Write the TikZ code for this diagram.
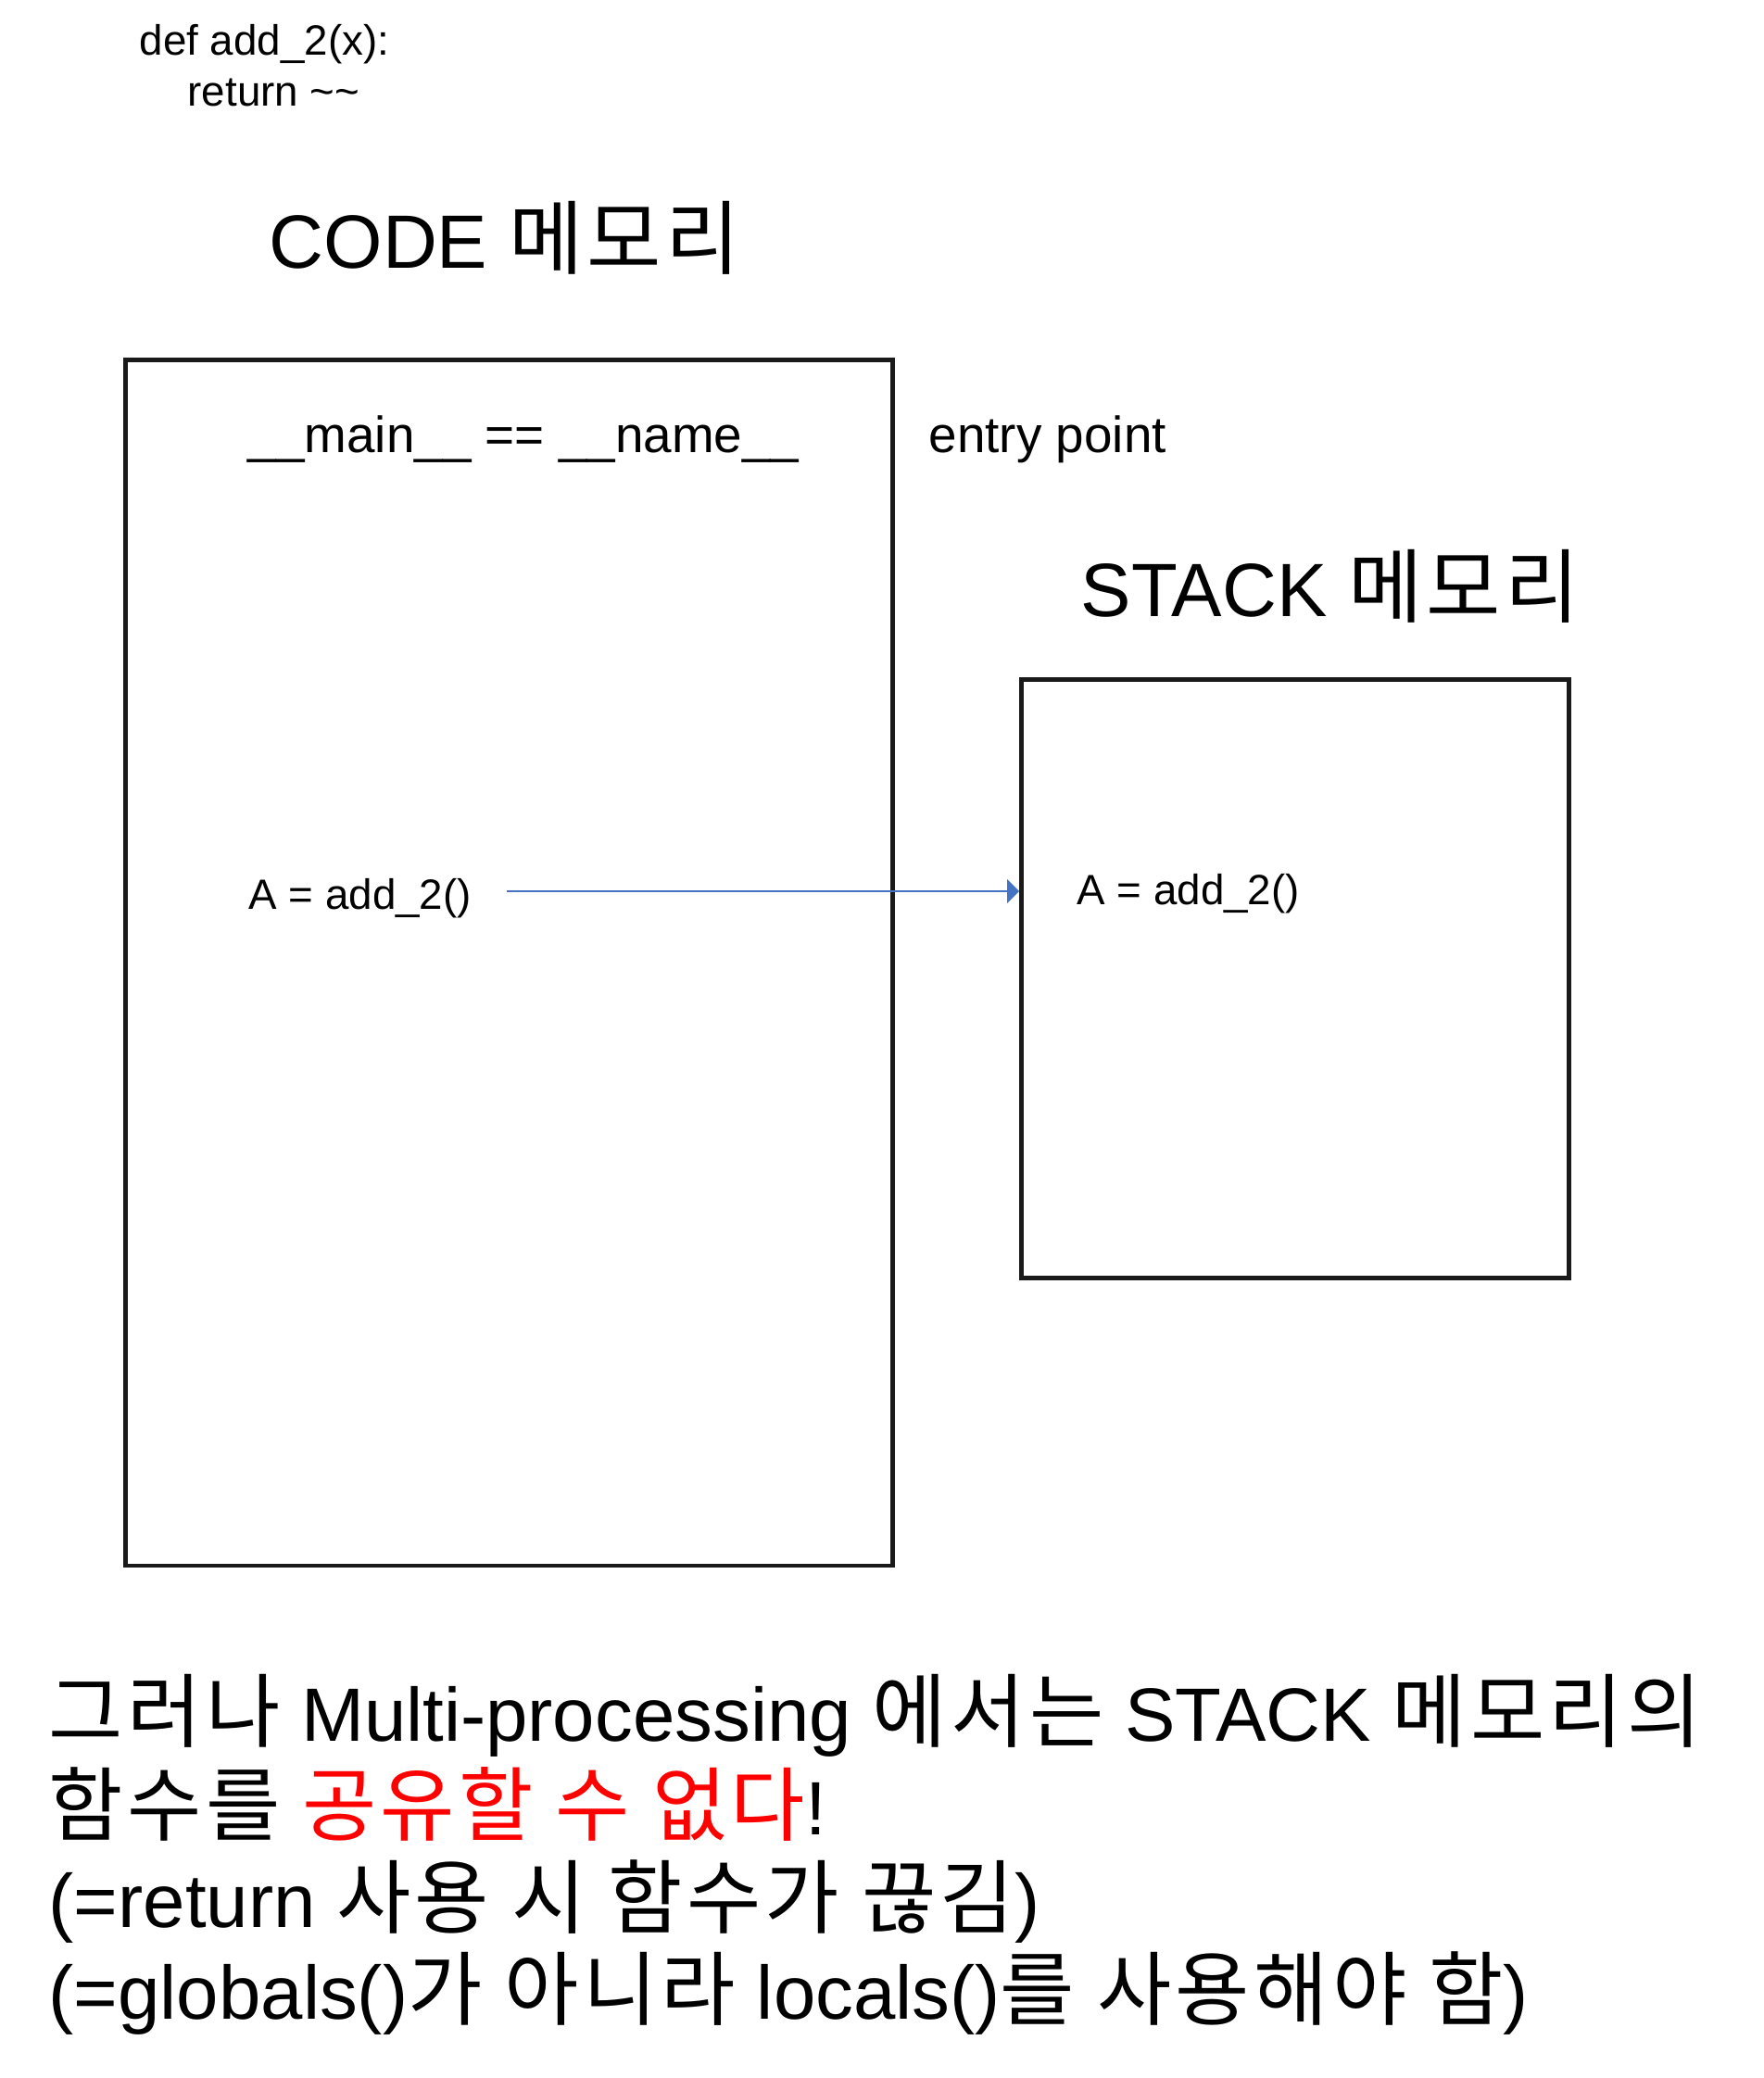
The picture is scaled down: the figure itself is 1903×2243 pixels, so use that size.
\documentclass[tikz,border=0pt]{standalone}
\usepackage{fontspec}
\setmainfont{Liberation Sans}
\newfontfamily\kr[Scale=1.07, LetterSpace=5]{Noto Sans CJK KR}
\usetikzlibrary{arrows.meta}
\definecolor{boxline}{RGB}{26,26,26}
\definecolor{callblue}{RGB}{68,114,196}
\definecolor{warnred}{RGB}{255,0,0}
\tikzset{
  membox/.style={draw=boxline, line width=1.3pt, inner sep=0pt, anchor=north west},
  small/.style={font=\fontsize{13}{15.6}\selectfont, inner sep=0pt, anchor=base west},
  mid/.style={font=\fontsize{15.6}{18.7}\selectfont, inner sep=0pt},
  big/.style={font=\fontsize{23.2}{28.4}\selectfont, inner sep=0pt, anchor=base west},
}
\begin{document}
\begin{tikzpicture}[x=0.01cm, y=-0.01cm]
    \useasboundingbox (0,0) rectangle (1903,2243);
    \node [small] (def) at (150,60) {def add\_2(x):};
    \node [small] (ret) at (202,115) {return \textasciitilde\textasciitilde};
    \node [big] (codetitle) at (290,290) {CODE {\kr 메모리}};
    \node [membox, minimum width=8.28cm, minimum height=13.01cm] (codebox) at (133,386) {};
    \node [mid, anchor=base] (namecheck) at (565,489) {\_\_main\_\_ == \_\_name\_\_};
    \node [mid, anchor=base west] (entry) at (1002,489) {entry point};
    \node [big] (stacktitle) at (1166,665) {STACK {\kr 메모리}};
    \node [membox, minimum width=5.91cm, minimum height=6.46cm] (stackbox) at (1100,731) {};
    \node [small] (callA) at (268,981) {A = add\_2()};
    \node [small] (stackA) at (1162,976) {A = add\_2()};
    \coordinate (callend) at (547,962);
    \draw [callblue, line width=0.6pt, -{Triangle[length=0.13cm, width=0.26cm]}] (callend) -- (callend -| stackbox.west);
    \node [big] (note1) at (52,1879) {{\kr 그러나} Multi-processing {\kr 에서는} STACK {\kr 메모리의}};
    \node [big] (note2) at (52,1980) {{\kr 함수를 \textcolor{warnred}{공유할 수 없다}}!};
    \node [big] (note3) at (52,2080) {(=return {\kr 사용 시 함수가 끊김})};
    \node [big] (note4) at (52,2179) {(=globals(){\kr 가 아니라} locals(){\kr 를 사용해야 함})};
\end{tikzpicture}
\end{document}
